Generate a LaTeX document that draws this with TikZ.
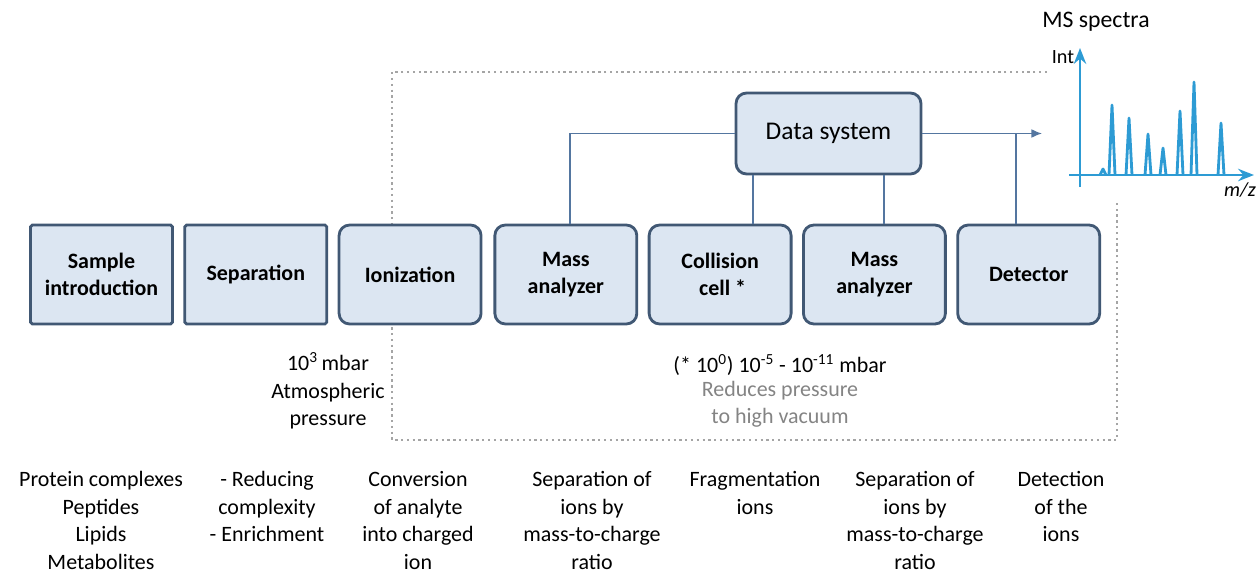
\documentclass[tikz,border=0pt]{standalone}
\usepackage{fontspec}
\setmainfont{Carlito}
\usetikzlibrary{arrows.meta}
\usetikzlibrary{positioning}
\definecolor{boxfill}{RGB}{220,230,242}
\definecolor{boxedge}{RGB}{65,88,116}
\definecolor{linkcol}{RGB}{84,118,160}
\definecolor{specblue}{RGB}{45,155,212}
\definecolor{framegray}{RGB}{165,165,165}

\begin{document}
\begin{tikzpicture}[x=0.02cm,y=-0.02cm,
    stage/.style={draw=boxedge,fill=boxfill,line width=1.6pt,rounded corners=6pt,minimum width=2.84cm,minimum height=1.98cm,align=center,inner sep=2pt,font=\fontsize{12.5}{15}\selectfont\bfseries},
    link/.style={draw=linkcol,line width=0.7pt},
    note/.style={align=center,inner sep=0pt,font=\fontsize{12.5}{15.7}\selectfont},
    spec/.style={draw=specblue,line width=1.6pt,line join=round}]
    \useasboundingbox (0,0) rectangle (1257,575);
    % vacuum region
    \draw[framegray,line width=1.3pt,dotted] (1047,72) -- (392,72) -- (392,440) -- (1117,440) -- (1117,200);
    % stages
    \node[stage,rounded corners=1pt] (si) at (101.5,274.5) {Sample\\introduction};
    \node[stage,rounded corners=1pt,right=0.19cm of si] (sep) {Separation};
    \node[stage,right=0.19cm of sep] (ion) {Ionization};
    \node[stage,right=0.22cm of ion] (ma1) {Mass\\analyzer};
    \node[stage,right=0.19cm of ma1] (cc) {Collision\\\ cell *};
    \node[stage,right=0.19cm of cc] (ma2) {Mass\\analyzer};
    \node[stage,right=0.19cm of ma2] (det) {Detector};
    \node[stage,minimum width=3.7cm,minimum height=1.62cm,font=\fontsize{14.5}{17}\selectfont] (data) at (828.5,133.5) {Data system};
    \coordinate (out) at (1042,133.5);
    \draw[link] (ma1.north -| 570,0) |- (data.west);
    \draw[link] (data.south -| 753,0) -- (cc.north -| 753,0);
    \draw[link] (data.south -| 884,0) -- (ma2.north -| 884,0);
    \draw[link,-{Latex[length=6pt,width=5pt]}] (data.east) -- (out);
    \draw[link] (det.north -| 1016,0) -- (out -| 1016,0);
    % pressures
    \node[note] (atm) at (328,391) {10\textsuperscript{3}\,mbar\\Atmospheric\\pressure};
    \node[note] (vac) at (780,365) {(* 10\textsuperscript{0}) 10\textsuperscript{-5} - 10\textsuperscript{-11} mbar};
    \node[note,text=framegray!80!black,below=0.1cm of vac] (vacnote) {Reduces pressure\\to high vacuum};
    % what each stage does
    \node[note,anchor=north] (d1) at (101,471) {Protein complexes\\Peptides\\Lipids\\Metabolites};
    \node[note,anchor=north] (d2) at (267,471) {- Reducing\\complexity\\- Enrichment};
    \node[note,anchor=north] (d3) at (418,471) {Conversion\\of analyte\\into charged\\ion};
    \node[note,anchor=north] (d4) at (592,471) {Separation of\\ions by\\mass-to-charge\\ratio};
    \node[note,anchor=north] (d5) at (755,471) {Fragmentation\\ions};
    \node[note,anchor=north] (d6) at (915,471) {Separation of\\ions by\\mass-to-charge\\ratio};
    \node[note,anchor=north] (d7) at (1061,471) {Detection\\of the\\ions};
    % spectrum
    \coordinate (orig) at (1080,175);
    \draw[spec,-{Stealth[length=9pt,width=7pt]}] (1080,187) -- (1080,48);
    \draw[spec,-{Stealth[length=9pt,width=7pt]}] (1069,175) -- (1254,175);
    \foreach \px/\py in {1103/169,1112/105,1129/118,1148/134,1163/148,1180/111,1194/82,1221/123}
        \draw[spec] (\px-3,175) -- (\px,\py) -- (\px+3,175);
    \node[inner sep=0pt,font=\fontsize{11.5}{13}\selectfont] (int) at (1063,57) {Int};
    \node[inner sep=0pt,font=\fontsize{11.5}{13}\selectfont\itshape] (mz) at (1240,190) {m/z};
    \node[inner sep=0pt,font=\fontsize{13.5}{16}\selectfont] (title) at (1096,22) {MS spectra};
\end{tikzpicture}
\end{document}
